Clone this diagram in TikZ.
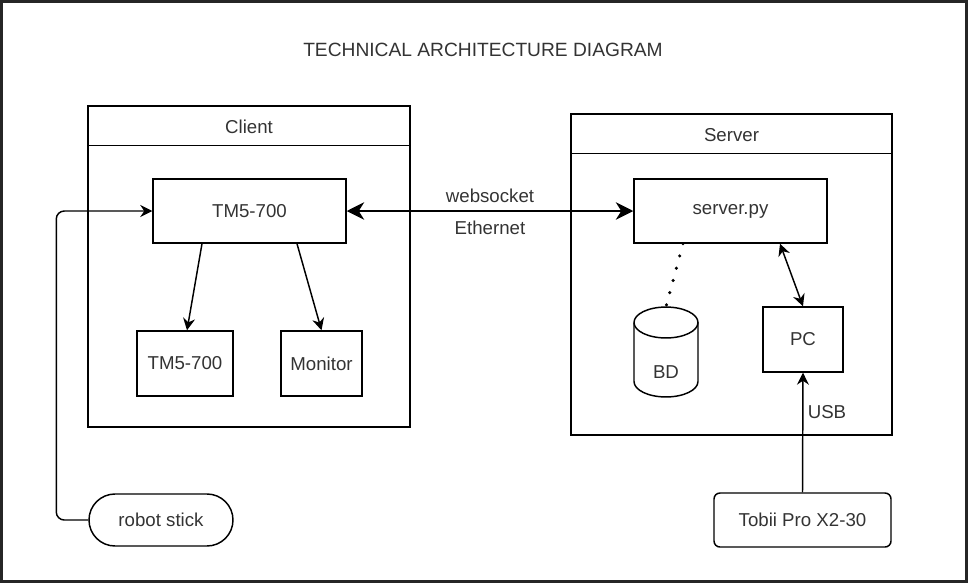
\documentclass[tikz,border=0pt]{standalone}
\usepackage{fontspec}
\setmainfont{Liberation Sans}
\usetikzlibrary{arrows.meta}
\definecolor{txt}{HTML}{333333}
\begin{document}
\begin{tikzpicture}[x=0.75pt,y=-0.75pt,
  lbl/.style={text=txt,font=\fontsize{14}{16}\selectfont,inner sep=0pt},
  box/.style={draw,line width=1.1pt,inner sep=0pt,text=txt,font=\fontsize{14}{16}\selectfont},
  cont/.style={draw,line width=1.1pt,inner sep=0pt},
  thin/.style={line width=1.1pt,-{Stealth[length=9pt,width=9pt,inset=3pt]}},
  both/.style={line width=1.1pt,{Stealth[length=9pt,width=9pt,inset=3pt]}-{Stealth[length=9pt,width=9pt,inset=3pt]}},
  thick/.style={line width=2.2pt,{Stealth[length=13pt,width=13pt,inset=4pt]}-{Stealth[length=13pt,width=13pt,inset=4pt]}}]
\useasboundingbox (0,0) rectangle (968,583);
\draw[line width=2.6pt,black!85] (1.5,1.5) rectangle (966.5,581.5);

\node[lbl,font=\fontsize{14.4}{16}\selectfont] (title) at (483,50) {TECHNICAL ARCHITECTURE DIAGRAM};

% client container
\node[cont,minimum width=322*0.75pt,minimum height=321*0.75pt] (client) at (249,266.5) {};
\draw[line width=1.1pt] ([yshift=-40*0.75pt]client.north west) -- ([yshift=-40*0.75pt]client.north east);
\node[lbl] (clientlbl) at (249,127) {Client};
\node[box,minimum width=193*0.75pt,minimum height=64*0.75pt] (tm5a) at (249.5,211) {TM5-700};
\node[box,minimum width=96*0.75pt,minimum height=65*0.75pt] (tm5b) at (185,363.5) {TM5-700};
\node[box,minimum width=81*0.75pt,minimum height=65*0.75pt] (monitor) at (321.5,363.5) {Monitor};

% server container
\node[cont,minimum width=321*0.75pt,minimum height=321*0.75pt] (server) at (731.5,274.5) {};
\draw[line width=1.1pt] ([yshift=-40*0.75pt]server.north west) -- ([yshift=-40*0.75pt]server.north east);
\node[lbl] (serverlbl) at (731.5,135) {Server};
\node[box,minimum width=193*0.75pt,minimum height=64*0.75pt] (serverpy) at (730.5,211) {server.py};
% database cylinder
\node[inner sep=0pt,minimum width=64*0.75pt,minimum height=90*0.75pt] (bd) at (666,352) {};
\draw[line width=1.1pt] (634,322.5) -- (634,381.5) arc[start angle=180,end angle=360,x radius=24pt,y radius=11.6pt] -- (698,322.5);
\draw[line width=1.1pt] (666,322.5) ellipse[x radius=24pt,y radius=11.6pt];
\node[lbl] (bdlbl) at (666,372) {BD};
\node[box,minimum width=80*0.75pt,minimum height=65*0.75pt] (pc) at (803,339.5) {PC};

% bottom devices
\node[box,rounded corners=26*0.75pt,minimum width=144*0.75pt,minimum height=52*0.75pt] (robot) at (161,520) {robot stick};
\node[box,rounded corners=6*0.75pt,minimum width=177*0.75pt,minimum height=54*0.75pt] (tobii) at (802.5,520) {Tobii Pro X2-30};

% connectors
\draw[thick] (tm5a.east) -- (serverpy.west);
\node[lbl] (ws) at (490,196) {websocket};
\node[lbl] (eth) at (490,228) {Ethernet};
\draw[thin] ([xshift=-47.5*0.75pt]tm5a.south) -- ([xshift=2*0.75pt]tm5b.north);
\draw[thin] ([xshift=47.5*0.75pt]tm5a.south) -- (monitor.north);
\draw[line width=2.6pt,line cap=round,dash pattern=on 0pt off 9.5pt] ([xshift=-47.5*0.75pt]serverpy.south) -- (bd.north);
\draw[both] ([xshift=49.5*0.75pt]serverpy.south) -- (pc.north);
\draw[thin] (tobii.north) -- (pc.south);
\node[lbl] (usb) at (827,412) {USB};
\draw[thin,rounded corners=8*0.75pt] (robot.west) -- ++(-32,0) |- (tm5a.west);
\end{tikzpicture}
\end{document}
